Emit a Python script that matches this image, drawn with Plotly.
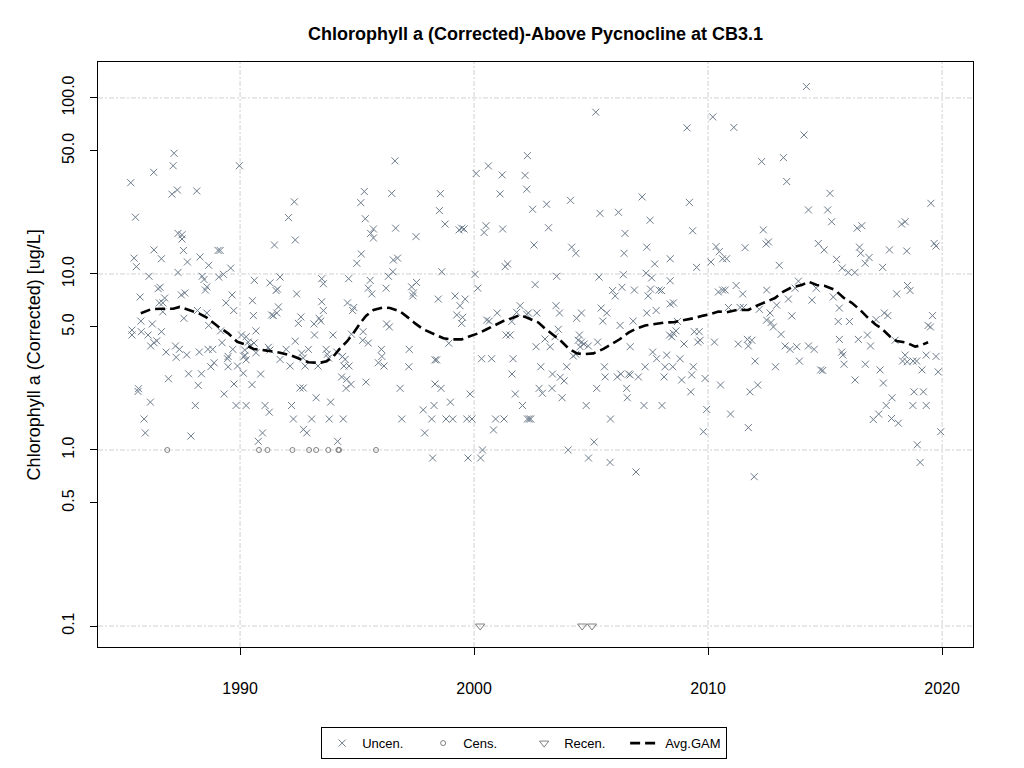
import math
import plotly.graph_objects as go

# ---- data (decimal year, ug/L) ----

# uncensored samples, 1985-1990
yr_a = [1987.18, 1987.14, 1986.31, 1985.33, 1987.32, 1987.09, 1988.15, 1985.53,
        1989.97, 1987.35, 1987.52, 1987.52, 1986.32, 1987.58, 1989.06, 1989.15,
        1985.47, 1986.64, 1988.29, 1987.75, 1985.57, 1988.66, 1989.60, 1986.11,
        1987.35, 1988.38, 1988.46, 1989.09, 1989.29, 1986.50, 1986.58, 1988.58,
        1988.52, 1985.73, 1987.64, 1987.49, 1989.66, 1986.55, 1986.70, 1986.78,
        1989.40, 1989.73, 1988.18, 1988.58, 1986.70, 1987.60, 1985.76, 1986.25,
        1985.38, 1985.38, 1985.78, 1986.07, 1986.64, 1988.66, 1989.17, 1990.06,
        1990.26, 1986.44, 1986.32, 1986.18, 1989.23, 1987.24, 1987.41, 1987.27,
        1986.84, 1987.72, 1988.26, 1988.63, 1988.83, 1989.69, 1989.49, 1989.46,
        1990.17, 1990.26, 1988.89, 1988.75, 1989.49, 1989.89, 1990.14, 1986.94,
        1987.80, 1988.35, 1988.21, 1989.74, 1985.66, 1985.64, 1989.32, 1986.17,
        1988.09, 1989.83, 1990.26, 1985.90, 1985.95, 1987.90]
val_a = [48.5, 41.2, 37.8, 33.0, 30.0, 28.4, 29.6, 21.0,
         41.2, 17.0, 16.7, 15.8, 13.7, 13.6, 13.6, 13.6,
         12.3, 12.2, 12.5, 11.7, 11.0, 11.2, 10.8, 9.7,
         10.2, 9.7, 9.3, 9.6, 9.95, 8.25, 8.4, 8.45,
         8.1, 7.4, 7.8, 7.6, 7.6, 6.85, 6.85, 7.3,
         6.85, 6.2, 6.2, 6.0, 6.1, 5.6, 5.4, 5.2,
         4.8, 4.5, 4.7, 4.5, 4.7, 5.1, 4.75, 4.5,
         4.4, 4.17, 4.07, 3.9, 4.07, 3.9, 3.73, 3.36,
         3.6, 3.47, 3.6, 3.73, 3.73, 3.73, 3.4, 3.3,
         3.4, 3.25, 3.13, 2.97, 2.97, 3.0, 2.73, 2.54,
         2.71, 2.71, 2.33, 2.37, 2.23, 2.15, 2.08, 1.87,
         1.79, 1.79, 1.79, 1.5, 1.25, 1.2]

# uncensored samples, 1990-1996
yr_b = [1995.31, 1995.16, 1992.32, 1992.07, 1995.35, 1995.70, 1995.58, 1995.70,
        1992.36, 1991.47, 1995.18, 1994.99, 1990.61, 1991.28, 1991.71, 1991.54,
        1991.60, 1992.42, 1993.49, 1993.56, 1994.64, 1995.56, 1995.48, 1995.63,
        1996.24, 1990.53, 1991.64, 1991.57, 1991.35, 1991.42, 1993.49, 1993.56,
        1994.59, 1994.86, 1994.81, 1990.57, 1992.60, 1992.49, 1993.38, 1993.45,
        1993.16, 1996.26, 1990.68, 1993.18, 1993.97, 1995.26, 1995.24, 1995.48,
        1990.35, 1990.60, 1990.43, 1992.36, 1994.76, 1990.20, 1990.21, 1990.68,
        1991.21, 1991.28, 1991.71, 1991.97, 1992.14, 1992.63, 1992.70, 1992.78,
        1992.92, 1993.33, 1993.68, 1993.73, 1993.78, 1994.13, 1994.38, 1994.49,
        1994.44, 1994.66, 1996.04, 1996.06, 1995.91, 1996.15, 1990.88, 1994.34,
        1994.56, 1994.74, 1994.53, 1995.38, 1990.51, 1992.56, 1992.70, 1993.25,
        1991.07, 1991.25, 1992.20, 1993.87, 1992.28, 1993.06, 1993.81, 1994.41,
        1992.71, 1992.85, 1990.96, 1990.78, 1994.17]
val_b = [29.4, 25.4, 25.7, 20.9, 20.6, 18.0, 17.0, 16.0,
         15.6, 14.6, 13.0, 11.5, 9.2, 8.9, 9.6, 8.05,
         8.2, 7.7, 9.4, 8.8, 9.4, 9.2, 8.3, 7.7,
         8.3, 7.05, 6.5, 6.0, 5.85, 5.8, 6.95, 6.2,
         6.85, 6.45, 6.2, 5.8, 5.7, 5.24, 5.6, 5.4,
         5.2, 5.2, 4.75, 4.5, 4.5, 4.7, 4.2, 4.05,
         4.1, 4.05, 3.9, 4.15, 4.55, 3.7, 3.45, 3.57,
         3.83, 3.7, 3.27, 3.73, 3.0, 3.55, 3.33, 3.0,
         3.73, 3.0, 3.73, 3.5, 3.33, 3.6, 3.4, 3.27,
         3.0, 3.0, 3.73, 3.4, 3.13, 3.0, 2.7, 2.6,
         2.52, 2.36, 2.24, 2.43, 2.35, 2.25, 2.25, 1.98,
         1.79, 1.64, 1.79, 1.87, 1.5, 1.5, 1.5, 1.5,
         1.31, 1.25, 1.25, 1.12, 1.12]

# uncensored samples, 1996-2002
yr_c = [1996.62, 2002.28, 2000.09, 2000.61, 2001.20, 2002.18, 2002.25, 1996.48,
        1998.56, 2001.11, 1998.52, 1998.76, 1996.65, 1997.52, 1999.36, 1999.47,
        1999.57, 2000.51, 2000.43, 2001.22, 1996.55, 1996.73, 2001.43, 2001.33,
        1996.34, 1996.53, 1998.62, 2000.04, 2000.16, 1997.54, 1997.33, 1997.41,
        1997.38, 1998.47, 1999.19, 1999.62, 1999.40, 1999.26, 1999.51, 1999.47,
        2001.97, 2000.99, 2000.54, 2000.65, 2001.82, 2001.61, 2002.25, 1996.38,
        2001.37, 2001.54, 1998.92, 1997.23, 1997.21, 1998.33, 1998.40, 2000.32,
        2000.75, 2001.67, 2001.62, 1996.84, 1998.33, 1998.59, 1999.83, 2001.76,
        1998.99, 1997.83, 1998.29, 2002.07, 1996.91, 1998.19, 1998.80, 1999.09,
        1999.69, 1999.91, 2000.92, 2001.28, 2002.28, 1997.89, 2000.83, 2000.36,
        1998.23, 1999.74, 2000.28]
val_c = [43.9, 47.0, 37.2, 41.1, 36.5, 36.3, 30.3, 28.7,
         28.6, 28.5, 22.9, 19.2, 18.2, 16.3, 17.8, 18.2,
         18.0, 18.8, 17.2, 18.0, 12.0, 12.3, 11.4, 11.0,
         9.7, 10.3, 10.3, 9.95, 8.3, 8.95, 8.45, 7.8,
         7.5, 7.2, 7.5, 7.2, 6.6, 5.85, 5.67, 5.24,
         6.6, 6.0, 5.47, 5.4, 6.05, 5.37, 5.9, 5.0,
         4.5, 4.5, 4.04, 3.73, 2.97, 3.25, 3.25, 3.3,
         3.3, 3.3, 2.7, 2.24, 2.37, 2.24, 2.08, 2.08,
         1.87, 1.69, 1.79, 1.79, 1.5, 1.5, 1.5, 1.5,
         1.5, 1.5, 1.5, 1.5, 1.5, 1.25, 1.3, 1.0,
         0.9, 0.9, 0.9]

# uncensored samples, 2002-2008
yr_d = [2002.50, 2003.10, 2004.12, 2005.38, 2006.17, 2007.18, 2007.52, 2006.45,
        2006.41, 2003.18, 2002.56, 2004.17, 2004.35, 2007.38, 2007.72, 2003.53,
        2005.34, 2006.38, 2007.35, 2007.59, 2002.61, 2005.92, 2006.03, 2006.32,
        2006.85, 2007.54, 2007.91, 2007.44, 2002.32, 2002.68, 2003.50, 2003.65,
        2004.59, 2004.38, 2005.43, 2005.67, 2005.50, 2007.38, 2007.78, 2006.80,
        2006.24, 2003.60, 2003.46, 2003.03, 2002.65, 2003.25, 2004.50, 2004.45,
        2004.59, 2004.53, 2004.70, 2004.88, 2004.24, 2004.35, 2005.28, 2006.67,
        2007.63, 2007.80, 2002.85, 2003.96, 2005.57, 2007.31, 2003.35, 2003.68,
        2003.85, 2005.60, 2006.12, 2006.27, 2006.61, 2006.67, 2007.02, 2008.12,
        2002.78, 2002.92, 2003.33, 2005.24, 2006.52, 2006.55, 2003.76, 2004.79,
        2007.26, 2008.03, 2002.36, 2002.42, 2005.83, 2005.13, 2004.02, 2004.89,
        2005.81, 2006.92, 2005.20]
val_d = [23.3, 24.9, 26.2, 22.1, 22.4, 27.4, 20.2, 17.0,
         13.1, 18.3, 14.6, 14.2, 13.1, 14.2, 11.4, 9.7,
         9.6, 9.9, 10.1, 9.5, 8.7, 8.05, 7.5, 8.4,
         8.1, 8.2, 8.1, 7.5, 6.0, 6.0, 6.6, 6.0,
         6.0, 5.6, 6.4, 6.0, 5.4, 6.0, 6.2, 5.4,
         5.1, 4.85, 4.4, 4.27, 3.86, 3.86, 4.5, 4.2,
         4.1, 3.86, 4.0, 3.9, 3.42, 3.5, 4.1, 3.86,
         3.6, 3.3, 2.97, 2.97, 2.97, 2.97, 2.7, 2.59,
         2.47, 2.6, 2.6, 2.7, 2.7, 2.67, 2.6, 2.6,
         2.24, 2.1, 2.24, 2.24, 2.24, 1.98, 1.98, 1.79,
         1.79, 1.79, 1.5, 1.5, 1.5, 1.11, 1.0, 0.9,
         0.85, 0.75, 83.0]

# uncensored samples, 2008-2014
yr_e = [2013.22, 2012.29, 2013.36, 2009.20, 2014.29, 2009.34, 2012.36, 2012.48,
        2012.58, 2010.34, 2010.48, 2011.58, 2010.62, 2010.79, 2008.38, 2009.51,
        2010.12, 2013.04, 2008.38, 2008.01, 2010.44, 2010.62, 2010.73, 2011.20,
        2011.48, 2012.50, 2013.72, 2013.86, 2013.43, 2008.38, 2008.52, 2010.87,
        2011.37, 2011.51, 2012.19, 2012.93, 2012.65, 2012.50, 2012.69, 2012.79,
        2013.12, 2013.58, 2008.69, 2008.35, 2008.52, 2008.45, 2008.63, 2009.41,
        2009.62, 2009.66, 2009.56, 2008.97, 2010.27, 2011.29, 2011.68, 2011.87,
        2011.72, 2013.29, 2013.50, 2013.79, 2014.29, 2008.23, 2008.16, 2008.49,
        2008.80, 2009.37, 2012.01, 2012.88, 2013.90, 2008.87, 2009.30, 2009.87,
        2009.26, 2010.53, 2011.79, 2012.12, 2009.94, 2010.96, 2009.80, 2011.72,
        2011.97, 2009.10, 2010.20, 2011.10, 2014.20, 2014.10]
val_e = [45.8, 43.5, 33.5, 25.5, 23.1, 17.6, 17.8, 14.8,
         15.2, 14.3, 13.4, 14.1, 12.2, 12.2, 12.2, 10.9,
         11.7, 11.2, 9.15, 8.05, 7.9, 8.1, 8.1, 8.6,
         7.7, 8.1, 8.3, 9.1, 7.2, 6.75, 6.85, 6.45,
         6.45, 6.45, 6.3, 6.65, 6.0, 5.47, 5.3, 5.0,
         4.54, 5.78, 5.37, 4.5, 4.6, 4.4, 4.75, 4.7,
         4.7, 4.2, 4.1, 4.0, 4.1, 4.0, 4.25, 4.2,
         3.9, 3.9, 3.73, 3.86, 3.9, 3.46, 2.97, 2.97,
         3.3, 2.97, 3.2, 2.97, 3.2, 2.5, 2.67, 2.55,
         2.14, 2.34, 2.14, 2.34, 1.7, 1.6, 1.27, 1.34,
         0.705, 67.6, 78.0, 68.0, 116.0, 61.6]

# uncensored samples, 2014-2020
yr_f = [2015.21, 2015.11, 2019.52, 2015.28, 2016.37, 2016.57, 2018.27, 2018.42,
        2014.71, 2014.96, 2016.47, 2016.52, 2016.88, 2016.71, 2017.75, 2018.49,
        2019.66, 2019.74, 2015.49, 2015.73, 2015.99, 2016.27, 2017.46, 2014.62,
        2018.52, 2018.63, 2018.06, 2015.35, 2014.44, 2015.61, 2017.53, 2017.68,
        2017.18, 2019.59, 2019.40, 2019.50, 2015.56, 2016.04, 2015.61, 2016.42,
        2016.81, 2016.94, 2014.53, 2015.71, 2015.76, 2017.99, 2015.81, 2016.72,
        2014.81, 2014.90, 2017.35, 2018.42, 2018.31, 2018.51, 2018.76, 2018.91,
        2019.14, 2019.32, 2019.74, 2019.83, 2016.28, 2017.49, 2017.86, 2017.61,
        2018.80, 2019.20, 2018.75, 2019.32, 2017.06, 2017.29, 2017.84, 2018.13,
        2019.94, 2018.94, 2019.06]
val_f = [28.7, 23.1, 25.2, 19.8, 18.2, 18.8, 19.2, 19.8,
         14.9, 13.7, 14.2, 13.1, 12.4, 11.5, 13.7, 13.5,
         14.9, 14.4, 12.1, 10.8, 10.2, 10.2, 10.9, 8.3,
         8.6, 8.05, 7.7, 7.4, 7.1, 6.4, 6.0, 5.8,
         5.5, 5.8, 5.1, 5.0, 5.37, 5.37, 4.25, 4.25,
         4.5, 3.9, 3.73, 3.6, 3.46, 4.2, 3.07, 3.07,
         2.85, 2.83, 2.85, 3.46, 3.2, 3.17, 3.2, 3.2,
         2.85, 3.46, 3.4, 2.78, 2.5, 2.4, 1.98, 1.79,
         2.14, 2.14, 1.79, 1.79, 1.49, 1.6, 1.51, 1.42,
         1.27, 1.07, 0.85]

# censored (<1.0) and recensored (0.1) samples
cens_year = [1986.89, 1990.81, 1991.17, 1992.24, 1992.95, 1993.25, 1993.77,
             1994.20, 1994.23, 1995.81]
cens_val = [1.0, 1.0, 1.0, 1.0, 1.0, 1.0, 1.0, 1.0, 1.0, 1.0]
recen_year = [2000.26, 2004.62, 2005.04]
recen_val = [0.1, 0.1, 0.1]

# average GAM fit
gam_year = [1985.76, 1986.20, 1986.64, 1987.14, 1987.42, 1987.85, 1988.21, 1988.56,
            1989.06, 1989.49, 1989.88, 1990.20, 1990.57, 1991.14, 1991.71, 1992.14,
            1992.49, 1992.92, 1993.42, 1993.70, 1993.99, 1994.27, 1994.56, 1994.84,
            1995.13, 1995.38, 1995.70, 1996.12, 1996.41, 1996.84, 1997.26, 1997.48,
            1997.83, 1998.26, 1998.69, 1999.05, 1999.47, 1999.76, 2000.18, 2000.54,
            2000.90, 2001.25, 2001.61, 2001.97, 2002.32, 2002.75, 2003.03, 2003.39,
            2003.75, 2004.03, 2004.39, 2004.67, 2005.10, 2005.53, 2005.95, 2006.24,
            2006.60, 2006.88, 2007.31, 2007.74, 2008.16, 2008.52, 2009.09, 2009.37,
            2009.80, 2010.09, 2010.44, 2010.80, 2011.22, 2011.72, 2012.08, 2012.44,
            2012.86, 2013.22, 2013.58, 2014.00, 2014.29, 2014.64, 2015.00, 2015.43,
            2015.78, 2016.14, 2016.50, 2016.78, 2017.14, 2017.42, 2017.78, 2018.06,
            2018.49, 2018.85, 2019.13, 2019.40]
gam_val = [5.98, 6.3, 6.35, 6.35, 6.5, 6.2, 6.0, 5.67,
           5.03, 4.6, 4.12, 3.98, 3.75, 3.67, 3.57, 3.46,
           3.32, 3.15, 3.13, 3.19, 3.4, 3.78, 4.12, 4.6,
           5.24, 5.78, 6.24, 6.46, 6.4, 6.12, 5.55, 5.24,
           4.85, 4.55, 4.31, 4.25, 4.25, 4.4, 4.6, 4.85,
           5.13, 5.4, 5.6, 5.85, 5.6, 5.3, 4.9, 4.5,
           4.12, 3.78, 3.54, 3.5, 3.54, 3.75, 4.04, 4.27,
           4.64, 4.85, 5.1, 5.2, 5.3, 5.32, 5.47, 5.6,
           5.8, 5.9, 6.12, 6.06, 6.24, 6.24, 6.6, 6.9,
           7.3, 7.95, 8.4, 8.65, 9.05, 8.65, 8.55, 8.1,
           7.35, 6.85, 6.24, 5.72, 5.18, 4.9, 4.4, 4.16,
           4.07, 3.86, 3.95, 4.09]

y_ticks = [0.1, 0.5, 1, 5, 10, 50, 100]
y_labels = ['0.1', '0.5', '1.0', '5.0', '10.0', '50.0', '100.0']
x_ticks = [1990, 2000, 2010, 2020]
grid_y = [0.1, 1, 10, 100]

uncen_year = yr_a + yr_b + yr_c + yr_d + yr_e + yr_f
uncen_val = val_a + val_b + val_c + val_d + val_e + val_f

pt_col = '#6C7B8B'
font = 'Arial, Liberation Sans, sans-serif'

fig = go.Figure()
fig.add_trace(go.Scatter(x=uncen_year, y=uncen_val, mode='markers', name='Uncen.',
                         marker=dict(symbol='x-thin', size=7, color=pt_col,
                                     line=dict(width=1, color=pt_col))))
fig.add_trace(go.Scatter(x=cens_year, y=cens_val, mode='markers', name='Cens.',
                         marker=dict(symbol='circle-open', size=5, color='#808080',
                                     line=dict(width=1))))
fig.add_trace(go.Scatter(x=recen_year, y=recen_val, mode='markers', name='Recen.',
                         marker=dict(symbol='triangle-down-open', size=8, color='#808080',
                                     line=dict(width=1))))
fig.add_trace(go.Scatter(x=gam_year, y=gam_val, mode='lines', name='Avg.GAM',
                         line=dict(color='black', width=2.6, dash='10px,5px')))

# R-style dotted grid, decades only
grid_line = dict(color='#d0d0d0', width=1, dash='5px,2px,2px,2px')
for g in grid_y:
    fig.add_shape(type='line', xref='paper', x0=0, x1=1, yref='y', y0=g, y1=g,
                  line=grid_line, layer='below')
for g in x_ticks:
    fig.add_shape(type='line', yref='paper', y0=0, y1=1, xref='x', x0=g, x1=g,
                  line=grid_line, layer='below')

fig.update_xaxes(range=[1983.93, 2021.32], tickvals=x_ticks, showgrid=False, zeroline=False,
                 ticks='outside', ticklen=7, tickcolor='black', ticklabelstandoff=20,
                 showline=True, mirror=True, linecolor='black', linewidth=1,
                 tickfont=dict(size=16, color='black'))
fig.update_yaxes(type='log', range=[math.log10(0.076), math.log10(160)],
                 tickvals=y_ticks, ticktext=y_labels, tickangle=-90,
                 showgrid=False, zeroline=False, ticks='outside', ticklen=7,
                 tickcolor='black', ticklabelstandoff=10,
                 showline=True, mirror=True, linecolor='black', linewidth=1,
                 tickfont=dict(size=16, color='black'))

fig.add_annotation(text='Chlorophyll a (Corrected) [ug/L]', textangle=-90,
                   xref='paper', yref='paper', x=-0.087, y=0.5, showarrow=False,
                   font=dict(size=18, color='black'))

# the page puts the figure 8px in from the top-left corner
fig.update_layout(
    width=1024, height=768,
    margin=dict(l=90, r=59, t=54, b=129),
    paper_bgcolor='white', plot_bgcolor='white',
    font=dict(family=font, color='black'),
    title=dict(text='<b>Chlorophyll a (Corrected)-Above Pycnocline at CB3.1</b>',
               x=0.5, xref='paper', y=0.967, yref='container', yanchor='middle',
               font=dict(size=18, color='black')),
    legend=dict(orientation='h', x=0.487, xanchor='center', y=-0.137, yanchor='top',
                bordercolor='black', borderwidth=1, font=dict(size=13),
                entrywidth=56),
    showlegend=True,
)

fig.write_html('out.html')
